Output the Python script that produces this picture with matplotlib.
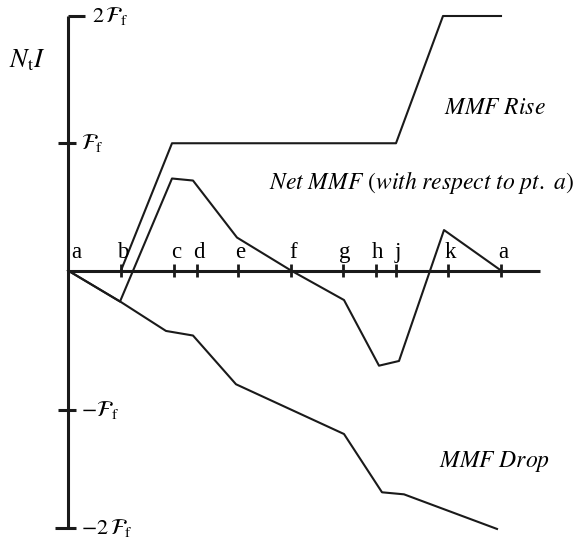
import numpy as np
import matplotlib
matplotlib.use("Agg")
import matplotlib.pyplot as plt

plt.rcParams['font.family'] = ['Liberation Serif', 'DejaVu Serif']
plt.rcParams['mathtext.fontset'] = 'stix'

# Posiciones a lo largo del entrehierro (unidades de dibujo) y nombres de los puntos
puntos = ['a', 'b', 'c', 'd', 'e', 'f', 'g', 'h', 'j', 'k', 'a']
x_puntos = [0, 53, 106, 129, 170, 223, 275, 308, 328, 380, 433]

# FMM en unidades de F_f
x_subida = [53, 104, 328, 375, 433]
fmm_subida = [0.0, 1.0, 1.0, 2.0, 2.0]

x_neta = [0, 52, 104, 125, 169, 223, 276, 311, 331, 376, 433]
fmm_neta = [0.0, -0.244, 0.723, 0.707, 0.259, 0.0, -0.232, -0.748, -0.711, 0.318, 0.0]

x_caida = [0, 53, 98, 125, 168, 276, 314, 336, 429]
fmm_caida = [0.0, -0.248, -0.475, -0.511, -0.894, -1.285, -1.743, -1.759, -2.031]

# Marcas del eje vertical
y_marcas = [2.0, 1.0, -1.095, -2.02]
y_etiquetas = [r'$2\,\mathcal{F}_{\mathrm{f}}$', r'$\mathcal{F}_{\mathrm{f}}$',
               r'$-\mathcal{F}_{\mathrm{f}}$', r'$-2\,\mathcal{F}_{\mathrm{f}}$']

fig = plt.figure(figsize=(5.75, 5.38), dpi=100)
ax = fig.add_axes([0, 0, 1, 1])
ax.set_xlim(-68, 507)
ax.set_ylim((270.5 - 538) / 127.25, 270.5 / 127.25)
ax.axis('off')

# Ejes
ax.plot([0, 472], [0, 0], color='#1a1a1a', lw=2.2, solid_capstyle='butt')
ax.plot([0, 0], [2.0, -2.02], color='#1a1a1a', lw=2.2, solid_capstyle='butt')

# Marcas del eje x
for xp in x_puntos[1:]:
    ax.plot([xp, xp], [-0.05, 0.05], color='#1a1a1a', lw=2.0, solid_capstyle='butt')
for i, (nombre, xp) in enumerate(zip(puntos, x_puntos)):
    dx = 8 if i == 0 else 2
    ax.text(xp + dx, 0.14, nombre, fontsize=16.5, ha='center', va='center')

# Marcas del eje y
for ym in y_marcas:
    izq = 0 if ym == 2.0 else -10
    if ym == -2.02:
        izq = -13
    der = 17 if ym == 2.0 else 8
    ax.plot([izq, der], [ym, ym], color='#1a1a1a', lw=2.2, solid_capstyle='butt')
for ym, et in zip(y_marcas, y_etiquetas):
    x0 = 24 if ym == 2.0 else 13
    ax.text(x0, ym, et, fontsize=16, ha='left', va='center')

# Curvas de FMM
ax.plot(x_subida, fmm_subida, color='#1a1a1a', lw=1.5)
ax.plot(x_neta, fmm_neta, color='#1a1a1a', lw=1.5)
ax.plot(x_caida, fmm_caida, color='#1a1a1a', lw=1.5)

# Textos
ax.text(-41, (270.5 - 60) / 127.25, r'$N_{\mathrm{t}}I$', fontsize=19, ha='center', va='center')
ax.text(427, (270.5 - 108) / 127.25, r'$\mathit{MMF\ Rise}$', fontsize=17, ha='center', va='center')
ax.text(353, (270.5 - 183) / 127.25,
        r'$\mathit{Net\ MMF}\ \mathrm{(}\mathit{with\ respect\ to\ pt.\ a}\mathrm{)}$',
        fontsize=17, ha='center', va='center')
ax.text(427, (270.5 - 462) / 127.25, r'$\mathit{MMF\ Drop}$', fontsize=17, ha='center', va='center')

fig.savefig('out.png', dpi=100)
